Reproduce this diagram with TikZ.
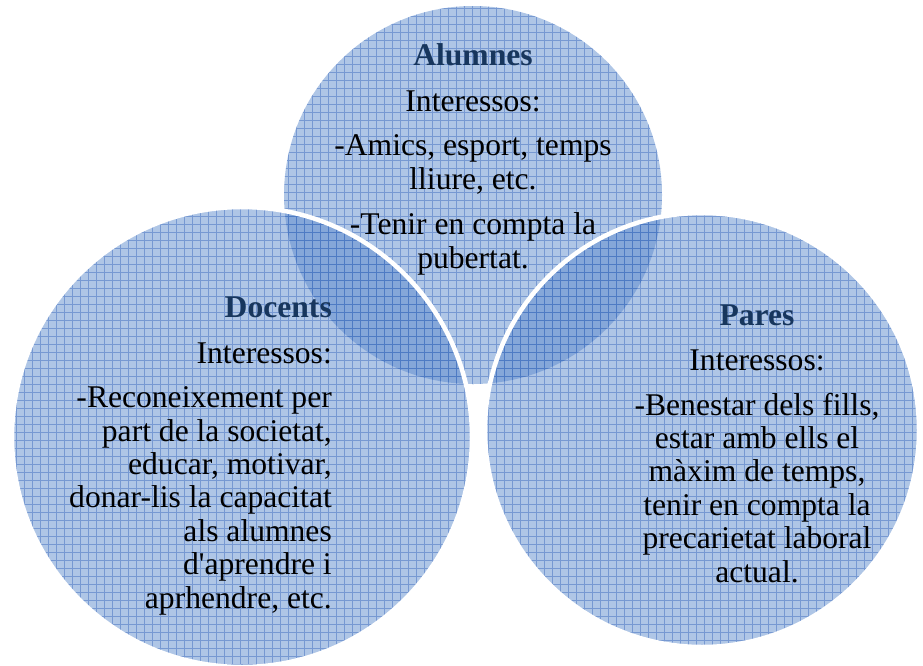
\documentclass[tikz,border=0pt]{standalone}
\usepackage{fontspec}
\setmainfont{Liberation Serif}[Ligatures=TeXOff]
\definecolor{circfill}{RGB}{86,133,202}
\definecolor{gridcol}{RGB}{50,100,185}
\definecolor{headcol}{RGB}{23,54,93}
\tikzset{
  circfillstyle/.style={fill=circfill, fill opacity=0.47},
  gridstyle/.style={draw=gridcol, draw opacity=0.45, line width=0.7pt},
  ringstyle/.style={draw=white, line width=4.5pt},
  txt/.style={font=\fontsize{31.6}{33.4}\selectfont, inner sep=0pt, text=black},
}
\newcommand{\hd}[1]{\textcolor{headcol}{\textbf{#1}}}
\begin{document}
\begin{tikzpicture}[x=1pt,y=-1pt]
\useasboundingbox (0,0) rectangle (923,665);
\clip (0,0) rectangle (923,665);
\coordinate (ctop) at (473,195);
\coordinate (cleft) at (242,437);
\coordinate (cright) at (702,430);
% top circle
\fill[circfillstyle] (ctop) circle[radius=189];
\begin{scope}
  \clip (ctop) circle[radius=189];
  \draw[gridstyle] (0,0) grid[step=8pt] (923,665);
\end{scope}
% left circle
\fill[circfillstyle] (cleft) circle[radius=230];
\begin{scope}
  \clip (cleft) circle[radius=230];
  \draw[gridstyle] (0,0) grid[step=8pt] (923,665);
\end{scope}
\draw[ringstyle] (cleft) circle[radius=230];
% right circle
\fill[circfillstyle] (cright) circle[radius=217];
\begin{scope}
  \clip (cright) circle[radius=217];
  \draw[gridstyle] (0,0) grid[step=8pt] (923,665);
\end{scope}
\draw[ringstyle] (cright) circle[radius=217];
% texts (base anchor = last line baseline)
\node[txt, align=center, anchor=base] (alumnes) at (473,268)
  {\hd{Alumnes}\\[13pt] Interessos:\\[11pt] -Amics, esport, temps\\ lliure, etc.\\[12pt] -Tenir en compta la\\ pubertat.};
\node[txt, align=right, anchor=base east] (docents) at (332,608)
  {\hd{Docents}\\[12pt] Interessos:\\[11pt] -Reconeixement per\\ part de la societat,\\ educar, motivar,\\ donar-lis la capacitat\\ als alumnes\\ d'aprendre i\\ aprhendre, etc.};
\node[txt, align=center, anchor=base] (pares) at (757,582)
  {\hd{Pares}\\[12pt] Interessos:\\[11pt] -Benestar dels fills,\\ estar amb ells el\\ màxim de temps,\\ tenir en compta la\\ precarietat laboral\\ actual.};
\end{tikzpicture}
\end{document}
